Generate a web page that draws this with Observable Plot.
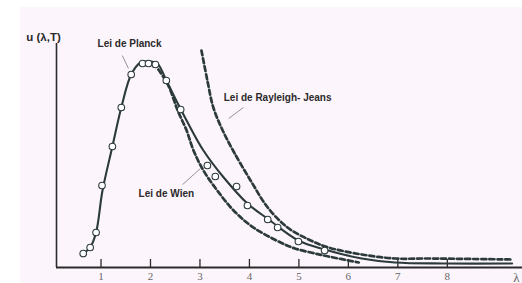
<!DOCTYPE html>
<html>
<head>
<meta charset="utf-8">
<script src="https://cdn.jsdelivr.net/npm/d3@7"></script>
<script src="https://cdn.jsdelivr.net/npm/@observablehq/plot@0.6"></script>
<style>
  html, body { margin: 0; padding: 0; background: #ffffff; }
  #chart svg { display: block; }
  #chart svg g[aria-label="x-axis tick label"],
  #chart svg g[aria-label="x-axis tick label"] text,
  #chart svg g[aria-label="x-axis label"],
  #chart svg g[aria-label="x-axis label"] text {
    font-family: "Liberation Serif", "DejaVu Serif", serif !important;
    fill: #666 !important;
  }
  #chart svg g[aria-label="x-axis label"] text { font-size: 13px; }
</style>
</head>
<body>
<div id="chart"></div>
<script>
// Wavelength axis extent and ticks
const xDomain = [0.1, 9.52];
const uDomain = [0, 1.12];
const xTicks = [1, 2, 3, 4, 5, 6, 7, 8];

// Planck law curve (solid)
const planckX = [0.64, 0.78, 0.90, 1.03, 1.23, 1.41, 1.61, 1.80, 2.00, 2.14, 2.32, 2.50, 2.73, 3.07, 3.48, 3.96, 4.39, 4.99, 5.52, 6.27, 6.94, 7.95, 9.31];
const planckU = [0.07, 0.10, 0.175, 0.385, 0.605, 0.80, 0.965, 1.025, 1.03, 1.02, 0.935, 0.845, 0.735, 0.585, 0.45, 0.32, 0.24, 0.135, 0.09, 0.045, 0.025, 0.02, 0.02];

// Experimental points (circles)
const pointsX = [0.64, 0.78, 0.90, 1.02, 1.23, 1.41, 1.61, 1.84, 1.96, 2.10, 2.32, 2.61, 3.15, 3.31, 3.74, 3.96, 4.37, 4.57, 4.99, 5.52];
const pointsU = [0.07, 0.10, 0.175, 0.41, 0.605, 0.80, 0.965, 1.02, 1.02, 1.015, 0.935, 0.79, 0.51, 0.455, 0.405, 0.31, 0.24, 0.20, 0.13, 0.085];

// Rayleigh-Jeans law (dashed, upper)
const rjX = [3.03, 3.15, 3.27, 3.46, 3.68, 4.06, 4.37, 4.77, 5.24, 5.60, 6.27, 6.94, 7.63, 9.31];
const rjU = [1.085, 0.935, 0.80, 0.685, 0.58, 0.42, 0.30, 0.20, 0.135, 0.10, 0.065, 0.045, 0.045, 0.04];

// Wien law (dashed, lower)
const wienX = [2.16, 2.36, 2.55, 2.73, 2.87, 3.07, 3.35, 3.68, 4.08, 4.63, 4.92, 5.24, 5.60, 6.21];
const wienU = [0.99, 0.91, 0.785, 0.685, 0.585, 0.485, 0.385, 0.285, 0.20, 0.125, 0.095, 0.075, 0.055, 0.025];

// Annotations
const labelTexts = ["u (λ,T)", "Lei de Planck", "Lei de Rayleigh- Jeans", "Lei de Wien"];
const labelX = [-0.51, 0.93, 3.48, 1.76];
const labelU = [1.15, 1.12, 0.85, 0.37];
const leaderX1 = [1.43, 3.88, 2.65];
const leaderU1 = [1.06, 0.80, 0.415];
const leaderX2 = [1.555, 3.58, 3.01];
const leaderU2 = [0.995, 0.745, 0.495];

const planck = planckX.map((x, i) => ({x, u: planckU[i]}));
const points = pointsX.map((x, i) => ({x, u: pointsU[i]}));
const rj = rjX.map((x, i) => ({x, u: rjU[i]}));
const wien = wienX.map((x, i) => ({x, u: wienU[i]}));
const labels = labelTexts.map((t, i) => ({t, x: labelX[i], u: labelU[i], big: i === 0}));
const leaders = leaderX1.map((x1, i) => ({x1, u1: leaderU1[i], x2: leaderX2[i], u2: leaderU2[i]}));

const ink = "#2c3a3c";
const font = "Liberation Sans, Arial, sans-serif";

const chart = Plot.plot({
  width: 522,
  height: 283,
  marginLeft: 56,
  marginRight: 0,
  marginTop: 43,
  marginBottom: 16,
  x: {domain: xDomain},
  y: {domain: uDomain, axis: null},
  style: {
    background: "linear-gradient(#fdf5fc, #fdf5fc) 20px 7px / 502px 276px no-repeat, #ffffff",
    overflow: "visible"
  },
  marks: [
    Plot.ruleY([uDomain[0]], {stroke: "#2b2b2b", strokeWidth: 2}),
    Plot.ruleX([xDomain[0]], {stroke: "#2b2b2b", strokeWidth: 1.6}),
    Plot.axisX(xTicks, {tickSize: -8, tickFormat: () => "", stroke: "#2b2b2b", strokeWidth: 1.3, label: null}),
    Plot.axisX(xTicks, {
      tickSize: 0, tickPadding: 5, fontSize: 11, fontFamily: "Liberation Serif, serif",
      label: "λ", labelAnchor: "right", labelOffset: 14, labelArrow: "none"
    }),
    Plot.line(wien, {x: "x", y: "u", curve: "catmull-rom", stroke: ink, strokeWidth: 2.7, strokeDasharray: "5,3"}),
    Plot.line(rj, {x: "x", y: "u", curve: "catmull-rom", stroke: ink, strokeWidth: 2.7, strokeDasharray: "5,3"}),
    Plot.line(planck, {x: "x", y: "u", curve: "catmull-rom", stroke: ink, strokeWidth: 2.1}),
    Plot.dot(points, {x: "x", y: "u", r: 3.3, fill: "white", stroke: ink, strokeWidth: 1.1}),
    Plot.link(leaders, {x1: "x1", y1: "u1", x2: "x2", y2: "u2", stroke: "#888", strokeWidth: 0.9}),
    Plot.text(labels, {
      x: "x", y: "u", text: "t", textAnchor: "start", fill: "#2a2a2a",
      fontFamily: font, fontWeight: "bold", fontSize: d => d.big ? 11.5 : 10
    })
  ]
});
document.getElementById("chart").appendChild(chart);
</script>
</body>
</html>
